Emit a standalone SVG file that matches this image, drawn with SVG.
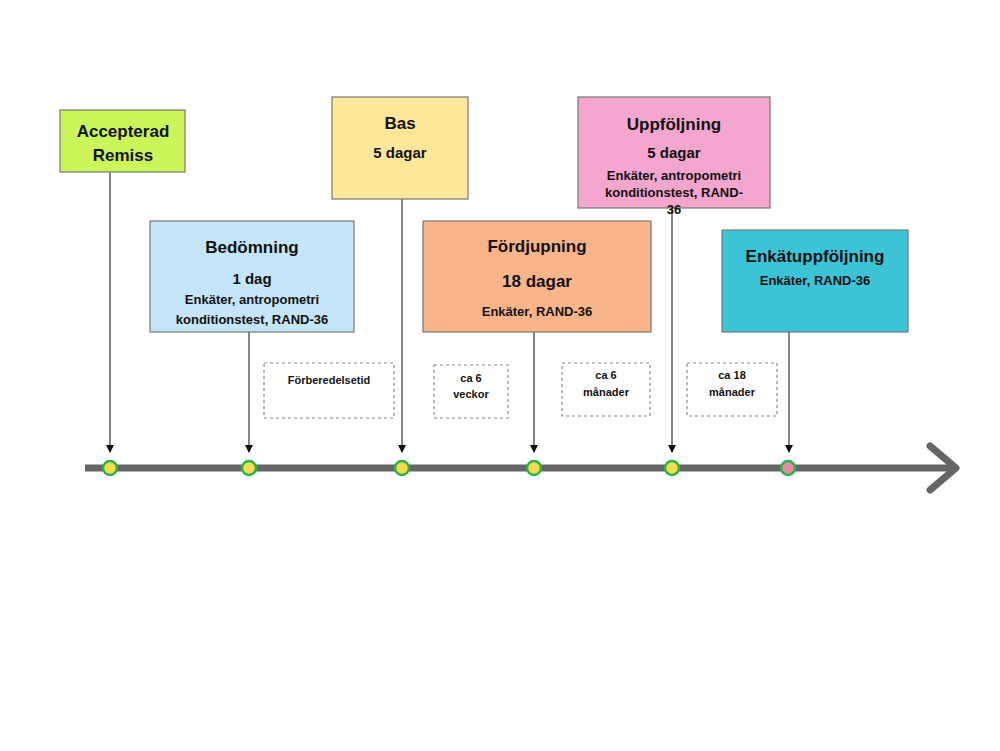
<svg xmlns="http://www.w3.org/2000/svg" width="1000" height="751" viewBox="0 0 1000 751">
<style>
text{font-family:"Liberation Sans",Arial,sans-serif;font-weight:bold;fill:#111;text-anchor:middle}
.t{font-size:17px}.s{font-size:13px}.d{font-size:11px}
.box{stroke:#777;stroke-width:1.2}
.dash{fill:#fff;stroke:#888;stroke-width:1.2;stroke-dasharray:3,3}
.con{stroke:#444;stroke-width:1.3;fill:none;marker-end:url(#ah)}
.dot{fill:#f5dc4a;stroke:#2bb34a;stroke-width:2.5}
</style>
<defs><marker id="ah" markerWidth="8" markerHeight="8" refX="7" refY="4" orient="auto" markerUnits="userSpaceOnUse"><path d="M0,0 L8,4 L0,8 Z" fill="#111"/></marker></defs>
<rect width="1000" height="751" fill="#fff"/>
<g id="connectors">
<line class="con" x1="110" y1="172" x2="110" y2="452"/>
<line class="con" x1="249" y1="332" x2="249" y2="452"/>
<line class="con" x1="402" y1="199" x2="402" y2="452"/>
<line class="con" x1="534" y1="332" x2="534" y2="452"/>
<line class="con" x1="672" y1="208" x2="672" y2="452"/>
<line class="con" x1="789" y1="332" x2="789" y2="452"/>
</g>
<g id="timeline">
<line x1="85" y1="468" x2="955" y2="468" stroke="#666" stroke-width="7"/>
<path d="M930,446 L956,468 L930,490" fill="none" stroke="#666" stroke-width="7" stroke-linecap="round" stroke-linejoin="round"/>
<circle class="dot" cx="110" cy="468" r="7"/>
<circle class="dot" cx="249" cy="468" r="7"/>
<circle class="dot" cx="402" cy="468" r="7"/>
<circle class="dot" cx="534" cy="468" r="7"/>
<circle class="dot" cx="672" cy="468" r="7"/>
<circle class="dot" cx="788" cy="468" r="7" style="fill:#e88aa8"/>
</g>
<g id="accepterad"><rect class="box" x="60" y="110" width="125" height="62" fill="#ccf55a"/>
<text class="t" x="123" y="137">Accepterad</text><text class="t" x="123" y="161">Remiss</text></g>
<g id="bas"><rect class="box" x="332" y="97" width="136" height="102" fill="#fde89a"/>
<text class="t" x="400" y="129">Bas</text><text class="s" x="400" y="158" style="font-size:15px">5 dagar</text></g>
<g id="uppfoljning"><rect class="box" x="578" y="97" width="192" height="111" fill="#f4a6cf"/>
<text class="t" x="674" y="130">Uppföljning</text><text x="674" y="158" style="font-size:15px">5 dagar</text>
<text class="s" x="674" y="180">Enkäter, antropometri</text><text class="s" x="674" y="197">konditionstest, RAND-</text><text class="s" x="674" y="214">36</text></g>
<g id="bedomning"><rect class="box" x="150" y="221" width="204" height="111" fill="#c5e6f8"/>
<text class="t" x="252" y="253">Bedömning</text><text x="252" y="284" style="font-size:15px">1 dag</text>
<text class="s" x="252" y="304">Enkäter, antropometri</text><text class="s" x="252" y="324">konditionstest, RAND-36</text></g>
<g id="fordjupning"><rect class="box" x="423" y="221" width="228" height="111" fill="#f8b58a"/>
<text class="t" x="537" y="252">Fördjupning</text><text class="t" x="537" y="287">18 dagar</text>
<text class="s" x="537" y="316">Enkäter, RAND-36</text></g>
<g id="enkatuppfoljning"><rect class="box" x="722" y="230" width="186" height="102" fill="#3cc4d6"/>
<text class="t" x="815" y="262">Enkätuppföljning</text><text class="s" x="815" y="285">Enkäter, RAND-36</text></g>
<g id="forberedelsetid"><rect class="dash" x="264" y="363" width="130" height="55"/><text class="d" x="329" y="384">Förberedelsetid</text></g>
<g id="ca6veckor"><rect class="dash" x="434" y="365" width="74" height="53"/><text class="d" x="471" y="382">ca 6</text><text class="d" x="471" y="398">veckor</text></g>
<g id="ca6manader"><rect class="dash" x="562" y="363" width="88" height="53"/><text class="d" x="606" y="379">ca 6</text><text class="d" x="606" y="396">månader</text></g>
<g id="ca18manader"><rect class="dash" x="687" y="363" width="90" height="53"/><text class="d" x="732" y="379">ca 18</text><text class="d" x="732" y="396">månader</text></g>
</svg>
